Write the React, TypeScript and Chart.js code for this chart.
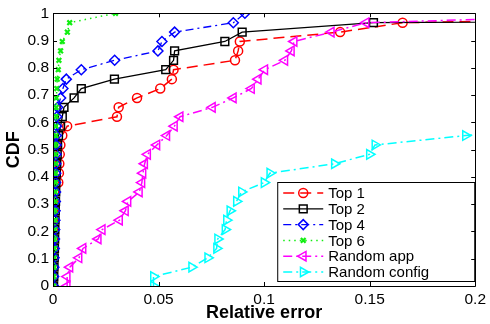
import React, { useEffect, useRef } from "react";
import { Chart, registerables } from "chart.js";
import { drawPoint } from "chart.js/helpers";

Chart.register(...registerables);

// CDF levels (30 samples)
const cdfLevels = [
  0, 0.0345, 0.069, 0.1034, 0.1379, 0.1724, 0.2069, 0.2414, 0.2759, 0.3103,
  0.3448, 0.3793, 0.4138, 0.4483, 0.4828, 0.5172, 0.5517, 0.5862, 0.6207, 0.6552,
  0.6897, 0.7241, 0.7586, 0.7931, 0.8276, 0.8621, 0.8966, 0.931, 0.9655, 1,
];

// Relative error (x) per series, one per CDF level
const top1 = [
  0, 0, 0, 0, 0, 0, 0, 0, 0.0001, 0.0002,
  0.0006, 0.0025, 0.0028, 0.003, 0.0032, 0.0035, 0.0044, 0.0067, 0.0303, 0.0311,
  0.0398, 0.0508, 0.0563, 0.0571, 0.0862, 0.0877, 0.0885, 0.136, 0.1656, 0.4,
];
const top2 = [
  0.0003, 0.0004, 0.0005, 0.0006, 0.0007, 0.0008, 0.0009, 0.001, 0.0011, 0.0012,
  0.0013, 0.0014, 0.0016, 0.0018, 0.002, 0.0022, 0.0026, 0.0036, 0.0044, 0.0052,
  0.01, 0.0134, 0.0291, 0.0534, 0.0571, 0.0576, 0.0814, 0.0896, 0.1518, 0.9,
];
const top4 = [
  0.0002, 0.0003, 0.0004, 0.0005, 0.0006, 0.0007, 0.0008, 0.0009, 0.001, 0.0011,
  0.0012, 0.0012, 0.0013, 0.0013, 0.0014, 0.0015, 0.0016, 0.0017, 0.0018, 0.0022,
  0.0036, 0.0047, 0.0063, 0.0134, 0.0292, 0.0497, 0.0516, 0.0576, 0.0854, 0.0909,
];
const top6 = [
  0.0003, 0.0004, 0.0005, 0.0006, 0.0007, 0.0008, 0.0009, 0.001, 0.001, 0.0011,
  0.0011, 0.0012, 0.0012, 0.0013, 0.0013, 0.0013, 0.0014, 0.0014, 0.0015, 0.0015,
  0.0016, 0.0018, 0.002, 0.0025, 0.0028, 0.0036, 0.0044, 0.0068, 0.0079, 0.0296,
];
const randomApp = [
  0.0067, 0.0067, 0.008, 0.0123, 0.0142, 0.0214, 0.0233, 0.0315, 0.0343, 0.0355,
  0.0409, 0.0421, 0.0426, 0.0434, 0.0448, 0.0492, 0.0539, 0.0575, 0.0602, 0.0755,
  0.0854, 0.094, 0.0972, 0.1003, 0.1098, 0.1129, 0.1142, 0.1318, 0.1483, 0.3,
];
const randomConfig = [
  0.0476, 0.0476, 0.0657, 0.0733, 0.0775, 0.078, 0.0815, 0.0822, 0.0838, 0.0869,
  0.0893, 0.1, 0.1027, 0.1333, 0.1499, 0.1525, 0.1954, 0.24, 0.26, 0.28,
  0.3, 0.32, 0.34, 0.36, 0.38, 0.4, 0.43, 0.46, 0.5, 0.55,
];

const xTicks = [0, 0.05, 0.1, 0.15, 0.2];
const yTicks = [0, 0.1, 0.2, 0.3, 0.4, 0.5, 0.6, 0.7, 0.8, 0.9, 1];

const seriesNames = ["Top 1", "Top 2", "Top 4", "Top 6", "Random app", "Random config"];

const FONT = "'Liberation Sans', Arial, Helvetica, sans-serif";

type Style = {
  color: string;
  dash: number[];
  pointStyle: string;
  radius: number;
  rotation: number;
  lineWidth: number;
  pointBorderWidth: number;
};

const styles: Style[] = [
  { color: "#ff0000", dash: [11, 6], pointStyle: "circle", radius: 4.5, rotation: 0, lineWidth: 1.5, pointBorderWidth: 1.5 },
  { color: "#000000", dash: [], pointStyle: "rect", radius: 5.5, rotation: 0, lineWidth: 1.3, pointBorderWidth: 1.5 },
  { color: "#0000ff", dash: [8, 4, 2, 4], pointStyle: "rectRot", radius: 5, rotation: 0, lineWidth: 1.3, pointBorderWidth: 1.5 },
  { color: "#11ee11", dash: [1.5, 4], pointStyle: "crossRot", radius: 3.3, rotation: 0, lineWidth: 1.5, pointBorderWidth: 2.2 },
  { color: "#ff00ff", dash: [9, 4, 2, 4], pointStyle: "triangle", radius: 5.5, rotation: -90, lineWidth: 1.5, pointBorderWidth: 1.5 },
  { color: "#00ffff", dash: [9, 4, 2, 4], pointStyle: "triangle", radius: 5.5, rotation: 90, lineWidth: 1.5, pointBorderWidth: 1.5 },
];

const seriesX = [top1, top2, top4, top6, randomApp, randomConfig];

function drawMarker(ctx: CanvasRenderingContext2D, s: Style, x: number, y: number) {
  ctx.save();
  ctx.strokeStyle = s.color;
  ctx.fillStyle = "rgba(0,0,0,0)";
  ctx.lineWidth = s.pointBorderWidth;
  ctx.setLineDash([]);
  drawPoint(ctx, { pointStyle: s.pointStyle as any, rotation: s.rotation, radius: s.radius, borderWidth: s.pointBorderWidth } as any, x, y);
  ctx.restore();
}

const legendPlugin = {
  id: "insideLegend",
  afterDatasetsDraw(chart: any) {
    const { ctx, chartArea } = chart;
    const w = 198;
    const h = 100;
    const right = chartArea.right;
    const bottom = chartArea.bottom - 4;
    const left = right - w;
    const top = bottom - h;
    ctx.save();
    ctx.fillStyle = "#ffffff";
    ctx.fillRect(left, top, w, h);
    ctx.strokeStyle = "#000000";
    ctx.lineWidth = 1;
    ctx.setLineDash([]);
    ctx.strokeRect(left + 0.5, top + 0.5, w - 1, h - 1);
    const rowH = 15.8;
    const startY = top + 11;
    ctx.font = `15px ${FONT}`;
    ctx.textBaseline = "middle";
    ctx.textAlign = "left";
    seriesNames.forEach((name, i) => {
      const s = styles[i];
      const y = startY + i * rowH;
      ctx.strokeStyle = s.color;
      ctx.lineWidth = s.lineWidth;
      ctx.setLineDash(s.dash);
      ctx.beginPath();
      ctx.moveTo(left + 6, y);
      ctx.lineTo(left + 46, y);
      ctx.stroke();
      drawMarker(ctx, s, left + 26, y);
      ctx.fillStyle = "#000000";
      ctx.fillText(name, left + 51, y + 1);
    });
    ctx.restore();
  },
};

const framePlugin = {
  id: "matlabFrame",
  afterDraw(chart: any) {
    const { ctx, chartArea } = chart;
    const xs = chart.scales.x;
    const ys = chart.scales.y;
    const { left, right, top, bottom } = chartArea;
    ctx.save();
    ctx.strokeStyle = "#000000";
    ctx.lineWidth = 1;
    ctx.setLineDash([]);
    ctx.beginPath();
    ctx.rect(Math.round(left) + 0.5, Math.round(top) + 0.5, Math.round(right - left), Math.round(bottom - top));
    ctx.stroke();
    const tl = 4;
    ctx.beginPath();
    xTicks.forEach((v) => {
      const px = Math.round(xs.getPixelForValue(v)) + 0.5;
      ctx.moveTo(px, bottom);
      ctx.lineTo(px, bottom - tl);
      ctx.moveTo(px, top);
      ctx.lineTo(px, top + tl);
    });
    yTicks.forEach((v) => {
      const py = Math.round(ys.getPixelForValue(v)) + 0.5;
      ctx.moveTo(left, py);
      ctx.lineTo(left + tl, py);
      ctx.moveTo(right, py);
      ctx.lineTo(right - tl, py);
    });
    ctx.stroke();
    ctx.restore();
  },
};

export default function App() {
  const canvasRef = useRef<HTMLCanvasElement | null>(null);

  useEffect(() => {
    document.body.style.margin = "0";
    const canvas = canvasRef.current;
    if (!canvas) return;
    const datasets = seriesX.map((xs, i) => {
      const s = styles[i];
      return {
        label: seriesNames[i],
        data: xs.map((x, j) => ({ x, y: cdfLevels[j] })),
        order: seriesX.length - i,
        showLine: true,
        borderColor: s.color,
        backgroundColor: "rgba(0,0,0,0)",
        borderWidth: s.lineWidth,
        borderDash: s.dash,
        pointStyle: s.pointStyle,
        pointRadius: s.radius,
        pointRotation: s.rotation,
        pointBorderColor: s.color,
        pointBackgroundColor: "rgba(0,0,0,0)",
        pointBorderWidth: s.pointBorderWidth,
        tension: 0,
        fill: false,
      };
    });
    const chart = new Chart(canvas, {
      type: "scatter",
      data: { datasets: datasets as any },
      options: {
        responsive: false,
        animation: false,
        layout: { padding: { top: 8, right: 11, left: 0, bottom: 0 } },
        plugins: {
          legend: { display: false },
          tooltip: { enabled: false },
        },
        scales: {
          x: {
            type: "linear",
            min: 0,
            max: 0.2,
            afterFit: (s: any) => {
              s.height = 38;
            },
            afterBuildTicks: (s: any) => {
              s.ticks = xTicks.map((v) => ({ value: v }));
            },
            grid: { display: false, drawTicks: false },
            border: { display: false },
            ticks: {
              color: "#000",
              font: { family: FONT, size: 15.5 },
              padding: 4,
              maxRotation: 0,
              callback: (v: any) => String(Number(Number(v).toFixed(2))),
            },
            title: {
              display: true,
              text: "Relative error",
              color: "#000",
              font: { family: FONT, size: 18, weight: "bold" },
              padding: { top: 0, bottom: 0 },
            },
          },
          y: {
            type: "linear",
            min: 0,
            max: 1,
            afterFit: (s: any) => {
              s.width = 53;
            },
            afterBuildTicks: (s: any) => {
              s.ticks = yTicks.map((v) => ({ value: v }));
            },
            grid: { display: false, drawTicks: false },
            border: { display: false },
            ticks: {
              color: "#000",
              font: { family: FONT, size: 15.5 },
              padding: 4,
              callback: (v: any) => String(Number(Number(v).toFixed(2))),
            },
            title: {
              display: true,
              text: "CDF",
              color: "#000",
              font: { family: FONT, size: 18, weight: "bold" },
              padding: { top: 3, bottom: 0 },
            },
          },
        },
      },
      plugins: [legendPlugin, framePlugin],
    });
    return () => chart.destroy();
  }, []);

  return (
    <div style={{ width: 490, height: 324 }}>
      <canvas ref={canvasRef} width={490} height={324} style={{ display: "block" }} />
    </div>
  );
}
